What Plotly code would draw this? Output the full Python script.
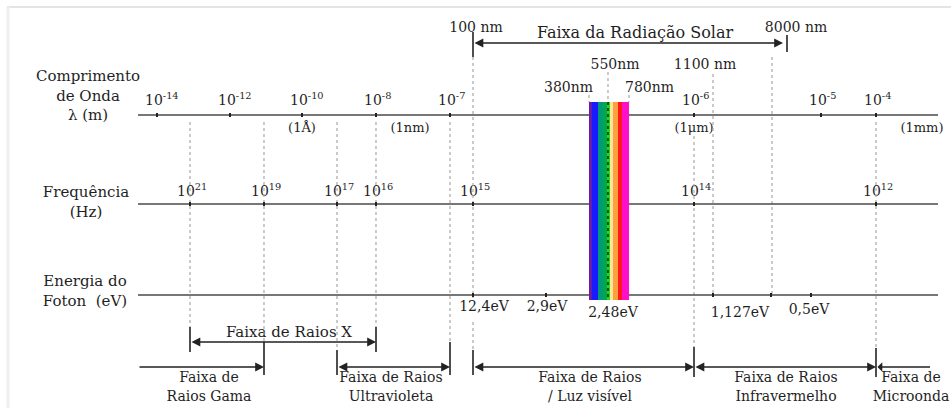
import plotly.graph_objects as go

# ---------------- data ----------------
wl_labels = ["10<sup>-14</sup>", "10<sup>-12</sup>", "10<sup>-10</sup>", "10<sup>-8</sup>",
             "10<sup>-7</sup>", "10<sup>-6</sup>", "10<sup>-5</sup>", "10<sup>-4</sup>"]
wl_pos = [157, 230, 302, 376, 450, 694, 821, 876]

unit_labels = ["(1Å)", "(1nm)", "(1μm)", "(1mm)"]
unit_pos = [302, 410, 694, 922]

freq_labels = ["10<sup>21</sup>", "10<sup>19</sup>", "10<sup>17</sup>", "10<sup>16</sup>",
               "10<sup>15</sup>", "10<sup>14</sup>", "10<sup>12</sup>"]
freq_pos = [190, 264, 337, 376, 473, 694, 876]

energy_labels = ["12,4eV", "2,9eV", "2,48eV", "1,127eV", "0,5eV"]
energy_pos = [473, 546, 608, 713, 811]
energy_label_pos = [484, 547, 613, 740, 809]
energy_extra_ticks = [771]

visible_nm = [380, 410, 470, 520, 560, 590, 620, 670, 710, 780]
visible_colors = ["#6a1ba8", "#1a1aff", "#009a7a", "#00a84a", "#22d622",
                  "#ffe79a", "#ffa040", "#ff1a1a", "#ff10c8"]
visible_px = [589, 629]  # 380 nm .. 780 nm

marker_labels = ["380nm", "550nm", "780nm", "1100 nm"]
marker_pos = [589, 608, 629, 713]

solar_labels = ["100 nm", "8000 nm"]
solar_pos = [473, 787]
solar_title = "Faixa da Radiação Solar"

bands = ["Faixa de<br>Raios Gama", "Faixa de Raios<br>Ultravioleta",
         "Faixa de Raios<br>/ Luz visível", "Faixa de Raios<br>Infravermelho",
         "Faixa de<br>Microonda"]
band_start = [138, 337, 473, 694, 876]
band_end = [264, 450, 694, 876, 930]
band_heads = ["end", "end+start", "end+start", "end+start", "start"]
band_text_x = [209, 391, 590, 786, 911]

xray_label = "Faixa de Raios X"
xray_range = [190, 376]

row_titles = ["Comprimento<br>de Onda<br>λ (m)", "Frequência<br>(Hz)", "Energia do<br>Foton  (eV)"]

# ---------------- layout constants ----------------
Y_WL, Y_FR, Y_EN = 115, 204, 295
AX_X0, AX_X1 = 138, 938
TXT = "#1f1f1f"
LINE = "#3a3a3a"
DOT = "#a8a8a8"
FONT = "DejaVu Serif, serif"

shapes = []
ann = []
fig = go.Figure()

def seg(x0, y0, x1, y1, color=LINE, width=1.5, dash="solid"):
    shapes.append(dict(type="line", xref="x", yref="y", x0=x0, y0=y0, x1=x1, y1=y1,
                       line=dict(color=color, width=width, dash=dash), layer="above"))

def texts(xs, ys, ts, size=14, pos="middle center"):
    fig.add_trace(go.Scatter(x=list(xs), y=list(ys), text=list(ts), mode="text",
                             textposition=pos, hoverinfo="skip", showlegend=False,
                             textfont=dict(family=FONT, size=size, color=TXT)))

def arrow(x0, x1, y, side):
    ann.append(dict(x=x1, y=y, ax=x0, ay=y, xref="x", yref="y", axref="x", ayref="y",
                    text="", showarrow=True, arrowhead=2, arrowsize=1.1, arrowwidth=1.6,
                    arrowcolor="#222", arrowside=side, standoff=0, startstandoff=0,
                    font=dict(family=FONT, size=12, color=TXT)))

# frame
seg(7, 7, 951, 7, color="#e4e4e4", width=2)
seg(8, 7, 8, 408, color="#efefef", width=3)

# dotted guide lines (x, y0, y1)
dotted = [(190, 122, 327), (264, 122, 342), (337, 122, 350), (376, 122, 327),
          (450, 122, 342), (473, 57, 298), (473, 322, 350), (589, 95, 102),
          (629, 95, 102), (694, 136, 347), (713, 74, 295), (772, 57, 295), (876, 122, 348)]
for x, a, b in dotted:
    seg(x, a, x, b, color=DOT, width=1.2, dash="dot")

# axes lines
for yy in (Y_WL, Y_FR, Y_EN):
    seg(AX_X0, yy, AX_X1, yy, color="#4a4a4a", width=1.6)

# ticks
for x in wl_pos:
    seg(x, Y_WL - 2, x, Y_WL + 2, color="#222", width=2)
for x in freq_pos:
    seg(x, Y_FR - 2, x, Y_FR + 2, color="#222", width=2)
for x in energy_pos + energy_extra_ticks:
    seg(x, Y_EN - 2, x, Y_EN + 2, color="#222", width=2)

# visible spectrum bar
def nm2px(nm):
    return visible_px[0] + (nm - visible_nm[0]) / (visible_nm[-1] - visible_nm[0]) * (visible_px[1] - visible_px[0])

for i, c in enumerate(visible_colors):
    shapes.append(dict(type="rect", xref="x", yref="y", x0=nm2px(visible_nm[i]), x1=nm2px(visible_nm[i + 1]),
                       y0=102, y1=300, fillcolor=c, line=dict(width=0), layer="above"))
seg(608, 72, 608, 102, color=DOT, width=1.2, dash="dot")
seg(608, 102, 608, 300, color="#111", width=1.4, dash="dot")

# wavelength labels
texts([x - 12 for x in wl_pos], [101] * len(wl_pos), wl_labels, 14, "middle right")
texts(unit_pos, [129] * len(unit_pos), unit_labels, 13)

# frequency labels
texts([x - 13 for x in freq_pos], [192] * len(freq_pos), freq_labels, 14, "middle right")

# energy labels
texts(energy_label_pos, [307, 307, 313, 313, 310], energy_labels, 14)

# marker labels
texts([593], [88], [marker_labels[0]], 14, "middle left")
texts([615, 705], [65, 65], [marker_labels[1], marker_labels[3]], 14)
texts([625], [88], [marker_labels[2]], 14, "middle right")

# solar radiation range
texts([476, 796], [28, 28], solar_labels, 14)
texts([635], [34], [solar_title], 16)
arrow(solar_pos[0], solar_pos[1] - 4, 43, "end+start")
seg(solar_pos[0], 32, solar_pos[0], 57, color="#222", width=1.6)
seg(solar_pos[1], 35, solar_pos[1], 52, color="#222", width=1.6)

# X-ray band
arrow(xray_range[0], xray_range[1], 342, "end+start")
seg(xray_range[0], 327, xray_range[0], 352, color="#222", width=1.6)
seg(xray_range[1], 327, xray_range[1], 352, color="#222", width=1.6)
texts([289], [333], [xray_label], 15)

# lower bands
bar_spans = {264: (342, 375), 337: (350, 375), 450: (342, 375), 473: (350, 375),
             694: (347, 377), 876: (348, 377)}
for x, (a, b) in bar_spans.items():
    seg(x, a, x, b, color="#222", width=1.6)
for x0, x1, side in zip(band_start, band_end, band_heads):
    arrow(x0, x1, 367, side)
texts(band_text_x, [388] * len(bands), bands, 14)

# row titles
texts([88, 86, 85], [97, 203, 292], row_titles, 15)

fig.update_layout(
    width=951, height=408, margin=dict(l=0, r=0, t=0, b=0),
    paper_bgcolor="white", plot_bgcolor="white",
    font=dict(family=FONT, size=14, color=TXT),
    xaxis=dict(range=[0, 951], visible=False, fixedrange=True),
    yaxis=dict(range=[408, 0], visible=False, fixedrange=True),
    shapes=shapes, annotations=ann, showlegend=False,
)
fig.write_html("out.html", config={"displayModeBar": False},
               post_script="document.body.style.margin='0';document.body.style.overflow='hidden';")
